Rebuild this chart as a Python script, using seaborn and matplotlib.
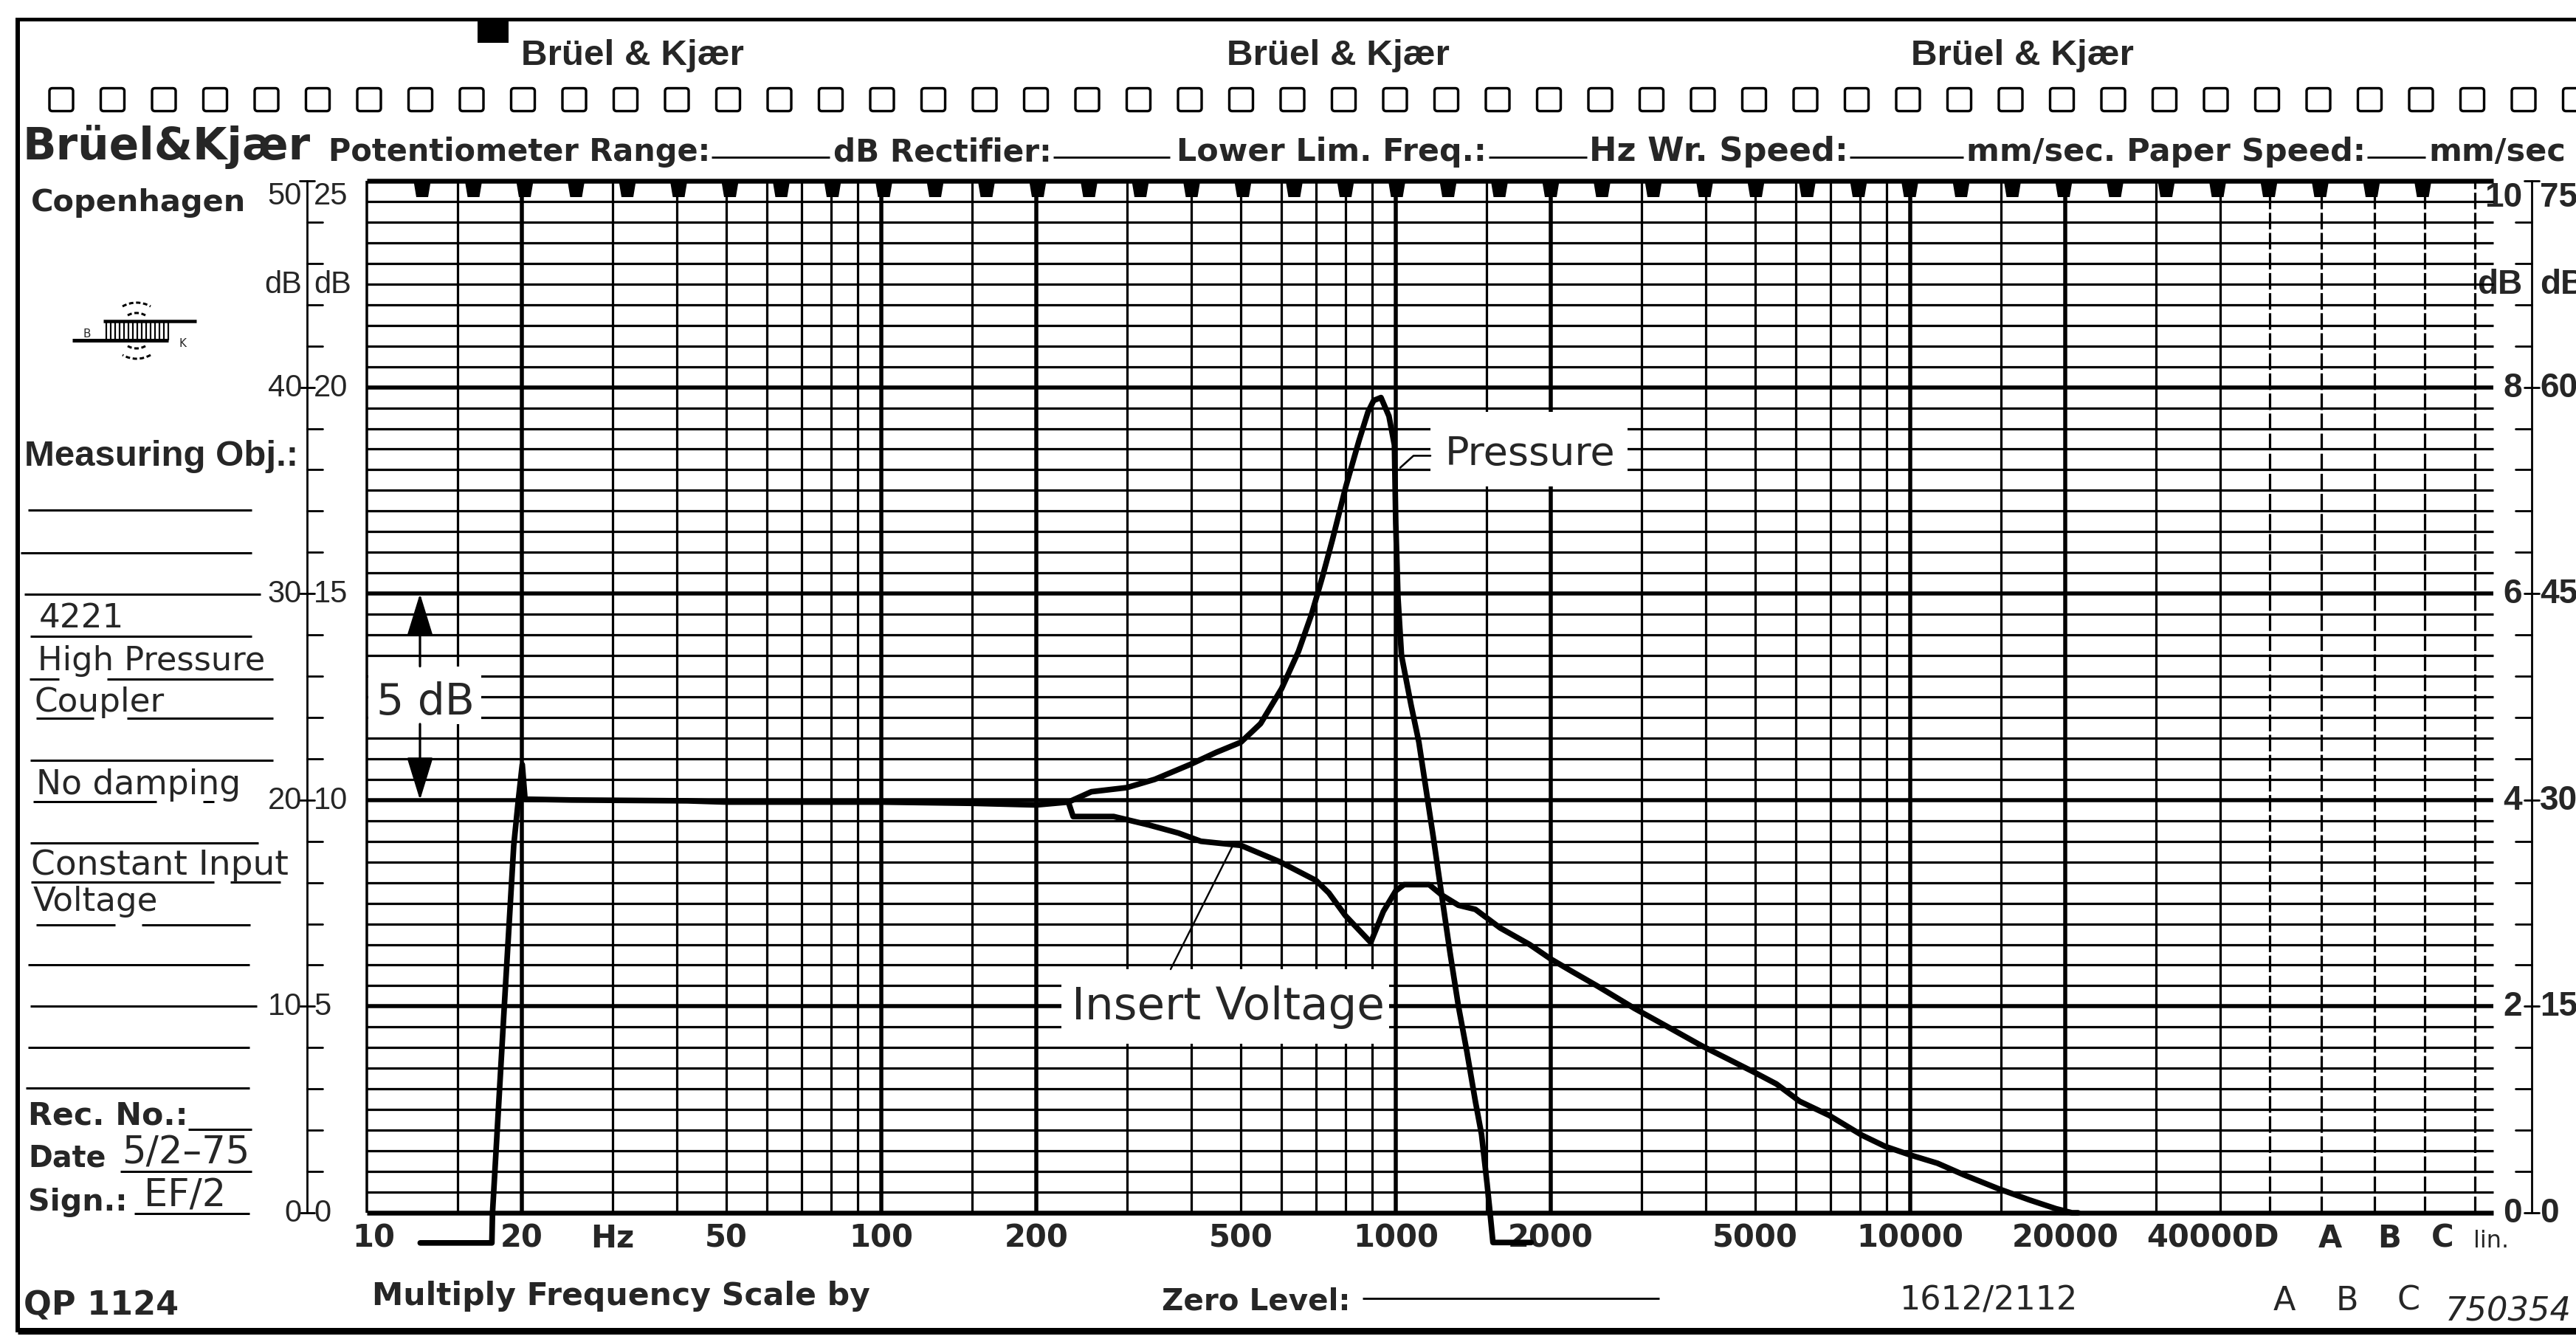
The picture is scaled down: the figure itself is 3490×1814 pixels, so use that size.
import matplotlib
matplotlib.use("Agg")
import matplotlib.pyplot as plt
import matplotlib.transforms as mtrans
from matplotlib.patches import Rectangle, FancyBboxPatch, Polygon, Arc
from matplotlib.ticker import NullLocator
import numpy as np
import seaborn as sns

# Curves: frequency (Hz) and level (dB)
pressure_hz = [12.7, 17.5, 17.55, 18.5, 19.3, 19.7, 20.05, 20.3, 25, 42,
               50, 100, 150, 200, 231, 256, 300, 340, 400, 447,
               500, 546, 600, 647, 686, 720, 753, 800, 848, 883,
               906, 936, 970, 994, 1000, 1010, 1026, 1071, 1109, 1183,
               1228, 1275, 1324, 1375, 1428, 1468, 1505, 1525, 1545, 1833]
pressure_db = [-0.73, -0.73, 0.0, 5.0, 8.9, 10.0, 10.86, 10.02, 10.0, 9.98,
               9.95, 9.95, 9.92, 9.88, 9.95, 10.2, 10.3, 10.5, 10.87, 11.15,
               11.4, 11.85, 12.7, 13.6, 14.5, 15.4, 16.3, 17.6, 18.7, 19.4,
               19.68, 19.75, 19.3, 18.6, 16.7, 14.9, 13.5, 12.3, 11.4, 9.1,
               7.7, 6.3, 5.0, 3.9, 2.7, 1.9, 0.7, 0.0, -0.72, -0.72]

insert_hz = [231, 236, 283, 330, 378, 418, 500, 596, 700, 741,
             798, 894, 946, 1000, 1038, 1161, 1228, 1324, 1428, 1596,
             1820, 2000, 2198, 2460, 2912, 3383, 3926, 4416, 5000, 5495,
             6097, 6956, 8055, 8932, 10000, 11296, 12708, 14860, 17060, 19190,
             20620, 21200]
insert_db = [9.95, 9.6, 9.6, 9.4, 9.2, 9.0, 8.9, 8.5, 8.05, 7.75,
             7.2, 6.55, 7.3, 7.8, 7.95, 7.95, 7.7, 7.45, 7.35, 6.9,
             6.5, 6.15, 5.85, 5.5, 4.95, 4.5, 4.05, 3.73, 3.39, 3.12,
             2.7, 2.36, 1.88, 1.61, 1.40, 1.2, 0.92, 0.58, 0.31, 0.1,
             0.0, 0.0]

# frequency scale
freq_label_hz = [10.3, 20, 30, 50, 100, 200, 500, 1000, 2000, 5000, 10000, 20000]
freq_label_txt = ["10", "20", "Hz", "50", "100", "200", "500", "1000", "2000",
                  "5000", "10000", "20000"]
col_lines_hz = [50000, 63000, 80000, 100000, 125000]

# dB scales at both sides
scale_db = [25, 22.5, 20, 15, 10, 5, 0]
left_outer = ["50", "dB", "40", "30", "20", "10", "0"]
left_inner = ["25", "dB", "20", "15", "10", "5", "0"]
right_inner = ["10", "dB", "8", "6", "4", "2", "0"]
right_outer = ["75", "dB", "60", "45", "30", "15", "0"]

# sheet geometry (pixels of the 3490x1815 sheet)
W, H = 3490, 1815
X10, XR = 497, 3378      # 10 Hz line and right edge of the grid
Y25, Y0 = 246, 1644      # 25 dB and 0 dB lines
DEC = 697.0              # pixels per decade
PT = 0.72                # points per pixel at dpi 100
THIN = 3.2               # grid line widths in pixels
HEAVY = 5.5


def hz(px):
    return 10 * 10 ** ((px - X10) / DEC)


sns.set_theme(style="white")
plt.rcParams["font.family"] = ["DejaVu Sans"]

fig = plt.figure(figsize=(W / 100, H / 100), dpi=100, facecolor="white")
bg = fig.add_axes([0, 0, 1, 1])
bg.set_xlim(0, W)
bg.set_ylim(H, 0)
bg.axis("off")

ax = fig.add_axes([X10 / W, 1 - Y0 / H, (XR - X10) / W, (Y0 - Y25) / H])
ax.set_xscale("log")
ax.patch.set_visible(False)
for s in ax.spines.values():
    s.set_visible(False)

renderer = fig.canvas.get_renderer()


def put(x, y, s, size, fit=None, **kw):
    kw.setdefault("va", "baseline")
    t = bg.text(x, y, s, fontsize=size, **kw)
    if fit:
        w = t.get_window_extent(renderer).width
        t.set_fontsize(size * fit / w)
    return t


def seg(x0, x1, y0, y1, w=2.5, **kw):
    bg.plot([x0, x1], [y0, y1], color="black", lw=w * PT,
            solid_capstyle="butt", **kw)


# ---------------- grid ----------------
gkw = dict(color="black", zorder=1, solid_capstyle="butt")
for d in (10, 100, 1000, 10000):
    for m in (1, 1.5, 2, 3, 4, 5, 6, 7, 8, 9):
        f = m * d
        if f > 40000:
            continue
        if f == 10:
            lw = 3.5
        elif m in (1, 2):
            lw = HEAVY
        else:
            lw = THIN
        ax.axvline(f, lw=lw * PT, clip_on=False, **gkw)
for f in col_lines_hz:
    ax.axvline(f, lw=THIN * PT, ls=(0, (7, 1.5)), **gkw)
for v in np.arange(0, 25.01, 0.5):
    if v in (0, 25):
        lw = 6.5
    elif v % 5 == 0:
        lw = HEAVY
    else:
        lw = THIN
    ax.axhline(v, lw=lw * PT, clip_on=False, **gkw)

# label boxes blanking the grid
for x0, x1, y0, y1 in ((hz(1938), hz(2205), 17.6, 19.4),
                       (hz(1438), hz(1882), 4.1, 5.9),
                       (10.05, hz(652), 11.84, 13.24)):
    ax.add_patch(Rectangle((x0, y0), x1 - x0, y1 - y0, facecolor="white",
                           edgecolor="none", zorder=2))

# ---------------- curves ----------------
for xs, ys in ((pressure_hz, pressure_db), (insert_hz, insert_db)):
    sns.lineplot(x=xs, y=ys, ax=ax, color="black", linewidth=5.5,
                 sort=False, estimator=None, clip_on=False, zorder=5,
                 solid_joinstyle="round", solid_capstyle="round")

ax.set_xlim(10, hz(XR))
ax.set_ylim(0, 25)
ax.xaxis.set_major_locator(NullLocator())
ax.xaxis.set_minor_locator(NullLocator())
ax.set_yticks([])
ax.set_xlabel("")
ax.set_ylabel("")

# annotations inside the grid
ax.text(hz(2073), 18.14, "Pressure", fontsize=39, ha="center", va="baseline", zorder=6)
ax.text(hz(1664), 4.70, "Insert Voltage", fontsize=44, ha="center", va="baseline", zorder=6)
ax.text(hz(576), 12.09, "5 dB", fontsize=42, ha="center", va="baseline", zorder=6)
ax.plot([hz(1938), hz(1915), hz(1897)], [18.34, 18.34, 18.05], color="black",
        lw=2.6 * PT, zorder=6)
ax.plot([hz(1586), hz(1672)], [5.9, 8.96], color="black", lw=2.4 * PT, zorder=6)
for y_from, y_to in ((13.24, 15.0), (11.84, 10.0)):
    ax.annotate("", xy=(hz(569), y_to), xytext=(hz(569), y_from),
                arrowprops=dict(arrowstyle="-|>,head_length=2.6,head_width=0.8",
                                mutation_scale=14, lw=3.2 * PT, color="black",
                                shrinkA=0, shrinkB=0), zorder=6)

# frequency labels under the grid
tx = mtrans.blended_transform_factory(ax.transData, bg.transData)
for f, s in zip(freq_label_hz, freq_label_txt):
    ax.text(f, 1690, s, transform=tx, ha="center", va="baseline", fontsize=30,
            weight="bold")
ax.text(hz(2998), 1690, "40000D", transform=tx, ha="center", va="baseline",
        fontsize=30, weight="bold")
for px_, s in ((3157, "A"), (3237, "B"), (3309, "C")):
    ax.text(hz(px_), 1690, s, transform=tx, ha="center", va="baseline",
            fontsize=30, weight="bold")
ax.text(hz(3351), 1690, "lin.", transform=tx, ha="left", va="baseline",
        fontsize=23)

# top edge sprocket tabs
for k in range(40):
    x = 572 + 69.5 * k
    bg.add_patch(Polygon([(x - 12, 244), (x + 12, 244), (x + 8, 268), (x - 8, 268)],
                         closed=True, facecolor="black", edgecolor="none"))

# ---------------- side dB scales ----------------
ty = mtrans.blended_transform_factory(bg.transData, ax.transData)
for xl, t0, t1 in ((416, 416, 437), (3430, 3408, 3430)):
    bg.plot([xl, xl], [0, 25], transform=ty, color="black", lw=2.8 * PT)
    for v in range(26):
        if v % 5:
            bg.plot([t0, t1], [v, v], transform=ty, color="black", lw=2.8 * PT)
for v, a, b, c, d in zip(scale_db, left_outer, left_inner, right_inner, right_outer):
    va = "top" if v == 25 else "center"
    bg.text(409, v, a, transform=ty, ha="right", va=va, fontsize=30,
            family="Liberation Sans")
    bg.text(425, v, b, transform=ty, ha="left", va=va, fontsize=30,
            family="Liberation Sans")
    bg.text(3417, v, c, transform=ty, ha="right", va=va, fontsize=33,
            family="Liberation Sans", weight="bold")
    bg.text(3441, v, d, transform=ty, ha="left", va=va, fontsize=33,
            family="Liberation Sans", weight="bold")
    if v != 22.5:
        bg.plot([406, 426], [v, v], transform=ty, color="black", lw=2.8 * PT)
        bg.plot([3420, 3440], [v, v], transform=ty, color="black", lw=2.8 * PT)

# ---------------- sheet frame and header ----------------
seg(24, W, 27, 27, 5)
seg(24, 24, 25, 1806, 6)
seg(24, W, 1804, 1804, 9)
bg.add_patch(Rectangle((647, 27), 42, 32, facecolor="black", edgecolor="none"))
for cx in (857, 1813, 2740):
    put(cx, 88, "Brüel & Kjær", 34, fit=302, ha="center",
        family="Liberation Sans", weight="bold")
for k in range(50):
    cx = 83 + 69.5 * k
    bg.add_patch(FancyBboxPatch((cx - 16, 120.5), 32, 31,
                                boxstyle="round,pad=0,rounding_size=4",
                                fill=False, edgecolor="black", lw=3.4 * PT))

put(31, 216, "Brüel&Kjær", 40, fit=390, weight="bold")
last = None
for x0, x1, s in ((445, 962, "Potentiometer Range:"), (1129, 1425, "dB Rectifier:"),
                  (1594, 2015, "Lower Lim. Freq.:"), (2153, 2504, "Hz Wr. Speed:"),
                  (2664, 3205, "mm/sec. Paper Speed:")):
    last = put(x0, 218, s, 29, fit=x1 - x0, weight="bold")
put(3290, 218, "mm/sec", last.get_fontsize(), weight="bold")
for x0, x1 in ((964, 1124), (1427, 1585), (2017, 2150), (2506, 2660), (3207, 3286)):
    seg(x0, x1, 214, 214, 2.8)

# ---------------- left form column ----------------
put(42, 286, "Copenhagen", 31, fit=291, weight="bold")
# small B&K emblem
seg(140, 266, 436, 436, 4.5)
seg(98, 228, 462, 462, 5)
for xx in np.arange(144, 230, 6):
    seg(xx, xx, 436, 462, 2.2)
put(118, 457, "B", 11, ha="center")
put(248, 470, "K", 11, ha="center")
for r in (24, 38):
    bg.add_patch(Arc((185, 449), 2 * r, 2 * r, theta1=240, theta2=300,
                     lw=3 * PT, ls=(0, (2, 1.2)), color="black"))
    bg.add_patch(Arc((185, 449), 2 * r, 2 * r, theta1=60, theta2=120,
                     lw=3 * PT, ls=(0, (2, 1.2)), color="black"))

put(33, 631, "Measuring Obj.:", 34, fit=371, family="Liberation Sans", weight="bold")
for x0, x1, y in ((38, 341, 692), (28, 341, 750), (33, 353, 806), (41, 341, 863),
                  (40, 80, 921), (145, 370, 921), (49, 127, 974), (172, 370, 974),
                  (41, 370, 1031), (45, 212, 1087), (275, 290, 1087), (41, 350, 1143),
                  (42, 290, 1196), (312, 380, 1196), (49, 156, 1254), (192, 339, 1254),
                  (38, 338, 1308), (41, 348, 1364), (38, 338, 1420), (35, 338, 1475),
                  (255, 341, 1531), (163, 341, 1588), (182, 338, 1645)):
    seg(x0, x1, y, y, 3.0)
for s, x, y, w in (("4221", 53, 850, 115), ("High Pressure", 51, 908, 308),
                   ("Coupler", 47, 964, 176), ("No damping", 49, 1076, 277),
                   ("Constant Input", 42, 1185, 349), ("Voltage", 45, 1234, 169),
                   ("5/2–75", 165, 1577, 173), ("EF/2", 195, 1635, 111)):
    put(x, y, s, 30, fit=w)
for s, x, y, w in (("Rec. No.:", 38, 1523, 217), ("Date", 38, 1581, 105),
                   ("Sign.:", 38, 1640, 134), ("QP 1124", 32, 1782, 210)):
    put(x, y, s, 30, fit=w, weight="bold")

# ---------------- footer ----------------
put(504, 1768, "Multiply Frequency Scale by", 30, fit=673, weight="bold")
put(1574, 1775, "Zero Level:", 30, fit=255, weight="bold")
seg(1846, 2248, 1760, 1760, 2.8)
put(2573, 1775, "1612/2112", 32)
for cx, s in ((3095, "A"), (3180, "B"), (3263, "C")):
    put(cx, 1775, s, 32, ha="center")
put(3313, 1790, "750354", 30, fit=171, style="italic")

fig.savefig("out.png", dpi=100, facecolor="white")
